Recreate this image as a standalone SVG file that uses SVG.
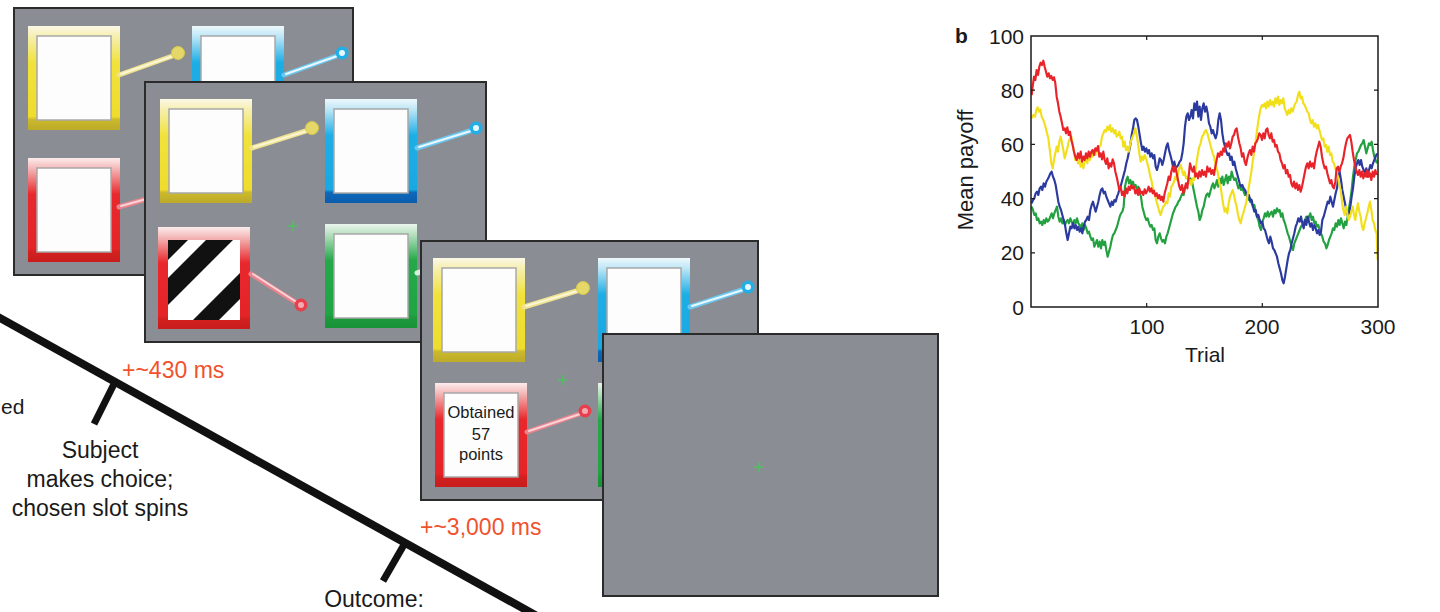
<svg xmlns="http://www.w3.org/2000/svg" xmlns:xlink="http://www.w3.org/1999/xlink" width="1440" height="612" viewBox="0 0 1440 612">
<style>
.panel{fill:#8a8e94;stroke:#2b2b2b;stroke-width:2}
.inner{fill:#fdfdfd;stroke:#a8a8a8;stroke-width:1.5}
.cross{stroke:#52c062;stroke-width:1.5;fill:none}
.lvY{stroke:#efe290;stroke-width:5;stroke-linecap:round}
.lvYc{stroke:#fbf6d6;stroke-width:2;stroke-linecap:round}
.knY{fill:#e6d868;stroke:#d8c84a;stroke-width:1}
.lvB{stroke:#6cc8ee;stroke-width:5;stroke-linecap:round}
.lvBc{stroke:#eaf8ff;stroke-width:2;stroke-linecap:round}
.knB{fill:#22aee6}
.lvR{stroke:#e9848e;stroke-width:5;stroke-linecap:round}
.lvRc{stroke:#f8d4d8;stroke-width:2;stroke-linecap:round}
.knR{fill:#e6404c}
.txt{font-family:"Liberation Sans",Arial,sans-serif;fill:#1a1a1a}
.org{font-family:"Liberation Sans",Arial,sans-serif;fill:#f0522e;font-size:23px}
.tl{stroke:#111;stroke-width:8;fill:none}
.tk{stroke:#111;stroke-width:7;fill:none}
.ax{font-family:"Liberation Sans",Arial,sans-serif;font-size:21px;fill:#1a1a1a}
.curve{fill:none;stroke-width:6.5;stroke-linejoin:round}
</style>
<defs>
<linearGradient id="gY" x1="0" y1="0" x2="0" y2="1">
<stop offset="0" stop-color="#fbf8e6"/><stop offset="0.1" stop-color="#f6efb0"/><stop offset="0.35" stop-color="#f1e23c"/><stop offset="0.87" stop-color="#efdc2c"/><stop offset="0.9" stop-color="#cbb92c"/><stop offset="1" stop-color="#bcaa2a"/>
</linearGradient>
<linearGradient id="gB" x1="0" y1="0" x2="0" y2="1">
<stop offset="0" stop-color="#eef8fc"/><stop offset="0.1" stop-color="#bde6f6"/><stop offset="0.35" stop-color="#1eaee6"/><stop offset="0.87" stop-color="#1aa8e2"/><stop offset="0.9" stop-color="#0f68b8"/><stop offset="1" stop-color="#0b5cad"/>
</linearGradient>
<linearGradient id="gR" x1="0" y1="0" x2="0" y2="1">
<stop offset="0" stop-color="#fcecec"/><stop offset="0.1" stop-color="#f4b8b8"/><stop offset="0.35" stop-color="#e8282c"/><stop offset="0.87" stop-color="#e52428"/><stop offset="0.9" stop-color="#d42020"/><stop offset="1" stop-color="#c81c1c"/>
</linearGradient>
<linearGradient id="gG" x1="0" y1="0" x2="0" y2="1">
<stop offset="0" stop-color="#eaf5ec"/><stop offset="0.1" stop-color="#b8e0c0"/><stop offset="0.35" stop-color="#24a84a"/><stop offset="0.87" stop-color="#20a444"/><stop offset="0.9" stop-color="#1c9a3c"/><stop offset="1" stop-color="#189236"/>
</linearGradient>
<clipPath id="stripeClip"><rect x="168" y="240" width="72" height="80"/></clipPath>
<g id="slotY"><rect width="92" height="104" fill="url(#gY)"/><rect class="inner" x="9" y="10" width="74" height="84"/></g>
<g id="slotB"><rect width="92" height="104" fill="url(#gB)"/><rect class="inner" x="9" y="10" width="74" height="84"/></g>
<g id="slotR"><rect width="92" height="104" fill="url(#gR)"/><rect class="inner" x="9" y="10" width="74" height="84"/></g>
<g id="slotG"><rect width="92" height="104" fill="url(#gG)"/><rect class="inner" x="9" y="10" width="74" height="84"/></g>
<path id="crossShape" class="cross" d="M-5 0H5M0 -5V5"/>
<clipPath id="plotClip"><rect x="1031" y="36" width="347" height="271"/></clipPath>
</defs>
<rect width="1440" height="612" fill="#ffffff"/>

<g id="timeline">
<line class="tl" x1="-10" y1="312.5" x2="560" y2="628.8"/>
<line class="tk" x1="115" y1="382" x2="94" y2="424"/>
<line class="tk" x1="405" y1="543" x2="383" y2="581"/>
</g>

<g id="panel1">
<rect class="panel" x="14" y="8" width="339" height="267"/>
<use href="#slotY" x="28" y="26"/>
<line class="lvY" x1="119" y1="75" x2="178" y2="54"/><line class="lvYc" x1="121" y1="74" x2="176" y2="55"/><circle class="knY" cx="178" cy="53" r="6.5"/>
<use href="#slotB" x="192" y="26"/>
<line class="lvB" x1="284" y1="75" x2="342" y2="54"/><line class="lvBc" x1="286" y1="74" x2="340" y2="55"/><circle class="knB" cx="342" cy="53" r="6.5"/><circle cx="342" cy="53" r="3" fill="#e6f8ff"/>
<use href="#slotR" x="28" y="158"/>
<line class="lvR" x1="119" y1="207" x2="170" y2="192"/><line class="lvRc" x1="121" y1="206" x2="168" y2="193"/>
</g>

<g id="panel2">
<rect class="panel" x="145" y="82" width="341" height="260"/>
<use href="#slotY" x="160" y="99"/>
<line class="lvY" x1="252" y1="148" x2="312" y2="129"/><line class="lvYc" x1="254" y1="147" x2="310" y2="130"/><circle class="knY" cx="312" cy="128" r="6.5"/>
<use href="#slotB" x="325" y="99"/>
<line class="lvB" x1="417" y1="148" x2="476" y2="129"/><line class="lvBc" x1="419" y1="147" x2="474" y2="130"/><circle class="knB" cx="476" cy="128" r="6.5"/><circle cx="476" cy="128" r="3" fill="#e6f8ff"/>
<rect x="158" y="227" width="92" height="102" fill="url(#gR)"/>
<rect x="168" y="240" width="72" height="80" fill="#ffffff"/>
<g clip-path="url(#stripeClip)" fill="#111111">
<polygon points="60,240 188,240 108,320 -20,320"/>
<polygon points="206,240 233,240 153,320 126,320"/>
<polygon points="273,240 299,240 219,320 193,320"/>
</g>
<line class="lvR" x1="251" y1="274" x2="300" y2="305"/><line class="lvRc" x1="253" y1="274" x2="298" y2="303"/><circle class="knR" cx="301" cy="305" r="6.5"/><circle cx="301" cy="305" r="3" fill="#f4a8b0"/>
<use href="#slotG" x="325" y="224"/>
<line class="lvB" x1="417" y1="273" x2="440" y2="266" style="stroke:#d8f0dc"/>
<use href="#crossShape" x="293" y="226"/>
</g>

<g id="panel3">
<rect class="panel" x="421" y="241" width="337" height="259"/>
<use href="#slotY" x="433" y="258"/>
<line class="lvY" x1="524" y1="307" x2="583" y2="289"/><line class="lvYc" x1="526" y1="306" x2="581" y2="290"/><circle class="knY" cx="583" cy="288" r="6.5"/>
<use href="#slotB" x="598" y="258"/>
<line class="lvB" x1="690" y1="307" x2="748" y2="288"/><line class="lvBc" x1="692" y1="306" x2="746" y2="289"/><circle class="knB" cx="748" cy="287" r="6.5"/><circle cx="748" cy="287" r="3" fill="#e6f8ff"/>
<use href="#slotR" x="435" y="383"/>
<text class="txt" x="481" y="418" font-size="16.5" text-anchor="middle">Obtained</text>
<text class="txt" x="481" y="440" font-size="16.5" text-anchor="middle">57</text>
<text class="txt" x="481" y="460" font-size="16.5" text-anchor="middle">points</text>
<line class="lvR" x1="527" y1="432" x2="585" y2="412"/><line class="lvRc" x1="529" y1="431" x2="583" y2="413"/><circle class="knR" cx="585" cy="411" r="6.5"/><circle cx="585" cy="411" r="3" fill="#f4a8b0"/>
<use href="#slotG" x="598" y="383"/>
<use href="#crossShape" x="563" y="380"/>
</g>

<g id="panel4">
<rect class="panel" x="603" y="334" width="335" height="262"/>
<use href="#crossShape" x="759" y="467"/>
</g>

<g id="labels">
<text class="txt" x="1" y="414" font-size="21">ed</text>
<text class="org" x="122" y="378">+~430 ms</text>
<text class="txt" font-size="23" text-anchor="middle"><tspan x="100" y="458">Subject</tspan><tspan x="100" y="487">makes choice;</tspan><tspan x="100" y="516">chosen slot spins</tspan></text>
<text class="org" x="420" y="535">+~3,000 ms</text>
<text class="txt" x="374" y="607" font-size="23" text-anchor="middle">Outcome:</text>
</g>

<g id="chart">
<text class="ax" x="955" y="43" font-size="22" font-weight="bold">b</text>
<g clip-path="url(#plotClip)">
<g transform="translate(940 20) scale(0.33333)">
<polyline class="curve" stroke="#23a040" points="275,560 279,570 283,585 287,580 291,600 295,595 299,610 303,605 307,615 311,600 315,610 319,595 323,605 327,600 331,590 335,580 339,595 343,580 347,570 351,560 355,590 359,605 363,595 367,610 371,600 375,615 379,605 383,600 387,610 391,595 395,605 399,615 403,600 407,610 411,595 415,610 419,615 423,625 427,610 431,630 435,615 439,625 443,640 447,635 451,650 455,660 459,655 463,680 467,670 471,660 475,680 479,665 483,685 487,660 491,675 495,665 499,690 503,710 507,695 511,680 515,660 519,645 523,640 527,630 531,620 535,605 539,590 543,580 547,575 551,560 555,500 559,480 563,470 567,490 571,480 575,495 579,485 583,500 587,495 591,510 595,500 599,520 603,530 607,560 611,575 615,590 619,600 623,595 627,610 631,620 635,615 639,630 643,625 647,660 651,670 655,650 659,640 663,655 667,665 671,660 675,670 679,650 683,640 687,625 691,610 695,595 699,580 703,570 707,560 711,555 715,545 719,540 723,530 727,520 731,525 735,505 739,500 743,490 747,480 751,475 755,480 759,500 763,520 767,540 771,560 775,575 779,600 783,590 787,570 791,560 795,540 799,525 803,520 807,530 811,515 815,500 819,490 823,505 827,495 831,480 835,500 839,475 843,490 847,470 851,495 855,480 859,465 863,490 867,470 871,480 875,455 879,470 883,480 887,475 891,490 895,505 899,495 903,510 907,505 911,515 915,525 919,520 923,530 927,540 931,535 935,550 939,560 943,555 947,575 951,590 955,600 959,620 963,630 967,605 971,595 975,580 979,590 983,575 987,590 991,580 995,575 999,590 1003,570 1007,580 1011,565 1015,575 1019,570 1023,590 1027,580 1031,600 1035,610 1039,625 1043,640 1047,650 1051,665 1055,680 1059,690 1063,670 1067,660 1071,650 1075,640 1079,630 1083,620 1087,615 1091,610 1095,600 1099,590 1103,605 1107,590 1111,580 1115,600 1119,590 1123,610 1127,605 1131,620 1135,615 1139,630 1143,640 1147,650 1151,665 1155,670 1159,685 1163,675 1167,660 1171,650 1175,640 1179,625 1183,630 1187,610 1191,620 1195,600 1199,615 1203,595 1207,610 1211,625 1215,605 1219,615 1223,590 1227,565 1231,540 1235,510 1239,470 1243,440 1247,420 1251,400 1255,395 1259,385 1263,375 1267,370 1271,360 1275,380 1279,400 1283,385 1287,370 1291,375 1295,365 1299,390 1303,410 1307,420 1311,430"/>
<polyline class="curve" stroke="#2b3a9e" points="275,550 279,540 283,535 287,520 291,515 295,525 299,505 303,500 307,510 311,490 315,500 319,485 323,478 327,470 331,460 335,455 339,470 343,480 347,495 351,520 355,545 359,560 363,570 367,585 371,600 375,615 379,640 383,660 387,640 391,620 395,625 399,610 403,625 407,615 411,630 415,620 419,635 423,625 427,640 431,620 435,605 439,600 443,590 447,600 451,570 455,555 459,545 463,560 467,575 471,560 475,545 479,525 483,510 487,505 491,520 495,515 499,530 503,540 507,550 511,560 515,545 519,555 523,540 527,545 531,530 535,520 539,505 543,495 547,480 551,465 555,450 559,430 563,415 567,395 571,375 575,345 579,325 583,300 587,295 591,300 595,320 599,345 603,370 607,390 611,380 615,395 619,385 623,400 627,390 631,410 635,400 639,415 643,405 647,440 651,450 655,435 659,415 663,420 667,435 671,420 675,400 679,380 683,370 687,390 691,405 695,420 699,440 703,425 707,445 711,440 715,435 719,425 723,420 727,400 731,370 735,320 739,290 743,280 747,300 751,290 755,270 759,295 763,250 767,270 771,245 775,290 779,260 783,300 787,265 791,250 795,275 799,260 803,280 807,310 811,320 815,340 819,330 823,345 827,355 831,340 835,300 839,280 843,300 847,340 851,365 855,380 859,395 863,405 867,400 871,420 875,410 879,435 883,425 887,445 891,460 895,475 899,490 903,500 907,495 911,505 915,510 919,520 923,530 927,525 931,545 935,540 939,560 943,575 947,570 951,590 955,585 959,600 963,610 967,605 971,625 975,630 979,645 983,660 987,670 991,650 995,665 999,685 1003,690 1007,700 1011,710 1015,730 1019,745 1023,760 1027,780 1031,790 1035,770 1039,745 1043,720 1047,700 1051,690 1055,670 1059,655 1063,640 1067,620 1071,610 1075,595 1079,605 1083,590 1087,610 1091,625 1095,600 1099,615 1103,590 1107,605 1111,620 1115,610 1119,630 1123,615 1127,625 1131,640 1135,630 1139,645 1143,635 1147,600 1151,590 1155,575 1159,560 1163,545 1167,550 1171,530 1175,545 1179,560 1183,540 1187,520 1191,505 1195,470 1199,455 1203,480 1207,510 1211,530 1215,550 1219,570 1223,585 1227,580 1231,560 1235,530 1239,505 1243,470 1247,445 1251,430 1255,420 1259,435 1263,420 1267,440 1271,450 1275,460 1279,445 1283,470 1287,450 1291,435 1295,445 1299,430 1303,420 1307,410 1311,400"/>
<polyline class="curve" stroke="#f2df1c" points="275,295 280,285 285,290 289,270 293,262 297,275 301,268 305,290 310,300 315,315 320,335 325,355 330,395 334,430 338,445 342,420 346,400 350,380 354,395 358,365 362,350 366,370 370,390 374,415 378,400 382,385 386,365 390,355 394,350 398,375 402,395 406,420 410,410 414,430 418,420 422,440 426,430 430,445 434,425 438,415 442,430 446,405 450,420 454,400 458,410 462,395 466,405 470,385 474,395 478,380 482,375 486,350 490,340 494,330 498,335 502,320 506,330 510,315 514,335 518,325 522,340 526,330 530,350 534,345 538,335 542,355 546,350 550,380 554,365 558,390 562,380 566,395 570,375 574,360 578,350 582,340 586,325 590,345 594,370 598,400 602,425 606,410 610,420 614,405 618,415 622,430 626,445 630,465 634,480 638,500 642,520 646,530 650,545 654,560 658,575 662,585 666,570 670,560 674,555 678,545 682,550 686,520 690,530 694,500 698,495 702,485 706,470 710,480 714,460 718,445 722,435 726,450 730,465 734,455 738,475 742,470 746,490 750,480 754,495 758,475 762,480 766,455 770,425 774,400 778,380 782,370 786,350 790,345 794,335 798,330 802,340 806,355 810,370 814,385 818,400 822,410 826,430 830,445 834,460 838,490 842,500 846,530 850,555 854,575 858,565 862,580 866,550 870,530 874,520 878,510 882,525 886,545 890,560 894,585 898,600 902,610 906,590 910,580 914,565 918,550 922,530 926,505 930,480 934,455 938,425 942,400 946,370 950,340 954,310 958,285 962,265 966,255 970,260 974,250 978,265 982,245 986,260 990,240 994,255 998,245 1002,260 1006,235 1010,250 1014,230 1018,255 1022,240 1026,250 1030,235 1034,265 1038,275 1042,285 1046,270 1050,280 1054,265 1058,275 1062,260 1066,250 1070,245 1074,225 1078,215 1082,235 1086,230 1090,250 1094,255 1098,265 1102,275 1106,280 1110,300 1114,310 1118,300 1122,320 1126,310 1130,325 1134,315 1138,330 1142,345 1146,360 1150,355 1154,380 1158,375 1162,395 1166,380 1170,405 1174,400 1178,425 1182,430 1186,445 1190,460 1194,470 1198,495 1202,510 1206,545 1210,570 1214,585 1218,560 1222,580 1226,600 1230,590 1234,575 1238,560 1242,585 1246,600 1250,570 1254,550 1258,575 1262,590 1266,620 1270,630 1274,610 1278,595 1282,580 1286,560 1290,545 1294,570 1298,600 1302,610 1306,630 1310,640 1312,700 1313,720"/>
<polyline class="curve" stroke="#e8242a" points="275,225 278,200 282,170 286,180 290,150 294,165 298,140 302,128 306,135 310,122 314,140 318,155 322,170 326,160 330,175 334,168 338,180 342,172 346,190 350,230 354,250 358,275 362,290 366,310 370,330 374,325 378,340 382,322 386,345 390,335 394,360 398,375 402,395 406,410 410,420 414,400 418,415 422,395 426,425 430,410 434,420 438,400 442,415 446,395 450,410 454,395 458,390 462,405 466,385 470,392 474,378 478,410 482,400 486,418 490,395 494,420 498,432 502,415 506,445 510,430 514,440 518,418 522,430 526,455 530,470 534,490 538,510 542,500 546,525 550,515 554,530 558,505 562,520 566,500 570,510 574,495 578,505 582,500 586,520 590,510 594,525 598,505 602,520 606,515 610,525 614,508 618,520 622,512 626,500 630,515 634,505 638,520 642,512 646,528 650,520 654,535 658,525 662,540 666,530 670,545 674,520 678,505 682,490 686,470 690,480 694,455 698,440 702,455 706,440 710,460 714,480 718,500 722,510 726,495 730,520 734,505 738,490 742,505 746,470 750,430 754,445 758,455 762,440 766,470 770,460 774,475 778,455 782,470 786,450 790,465 794,455 798,470 802,440 806,455 810,445 814,462 818,450 822,465 826,440 830,420 834,400 838,410 842,395 846,405 850,385 854,395 858,370 862,380 866,365 870,385 874,370 878,350 882,345 886,330 890,325 894,350 898,370 902,385 906,410 910,400 914,425 918,435 922,415 926,400 930,390 934,405 938,380 942,395 946,370 950,365 954,355 958,340 962,345 966,360 970,340 974,355 978,330 982,325 986,345 990,355 994,340 998,365 1002,360 1006,380 1010,375 1014,395 1018,400 1022,420 1026,430 1030,445 1034,435 1038,460 1042,450 1046,470 1050,465 1054,490 1058,500 1062,485 1066,505 1070,490 1074,510 1078,495 1082,515 1086,500 1090,480 1094,460 1098,440 1102,430 1106,445 1110,425 1114,440 1118,430 1122,445 1126,415 1130,395 1134,380 1138,365 1142,380 1146,410 1150,430 1154,445 1158,440 1162,460 1166,475 1170,490 1174,480 1178,500 1182,505 1186,485 1190,445 1194,440 1198,455 1202,440 1206,430 1210,415 1214,390 1218,370 1222,355 1226,350 1230,345 1234,365 1238,395 1242,420 1246,440 1250,455 1254,465 1258,450 1262,470 1266,455 1270,475 1274,460 1278,470 1282,450 1286,470 1290,460 1294,480 1298,455 1302,470 1306,450 1310,465"/>
</g>
</g>
<rect x="1031" y="36" width="347" height="271" fill="none" stroke="#1a1a1a" stroke-width="1.5"/>
<path d="M1146.7 307v-4M1262.3 307v-4M1146.7 36v4M1262.3 36v4M1031 252.8h4M1031 198.6h4M1031 144.4h4M1031 90.2h4M1378 252.8h-4M1378 198.6h-4M1378 144.4h-4M1378 90.2h-4" stroke="#1a1a1a" stroke-width="1.2" fill="none"/>
<g class="ax" text-anchor="end">
<text x="1024" y="315">0</text>
<text x="1024" y="260">20</text>
<text x="1024" y="206">40</text>
<text x="1024" y="152">60</text>
<text x="1024" y="98">80</text>
<text x="1024" y="44">100</text>
</g>
<g class="ax" text-anchor="middle">
<text x="1147" y="334">100</text>
<text x="1262" y="334">200</text>
<text x="1378" y="334">300</text>
<text x="1205" y="362">Trial</text>
<text transform="translate(973 170) rotate(-90)" font-size="22">Mean payoff</text>
</g>
</g>
</svg>
